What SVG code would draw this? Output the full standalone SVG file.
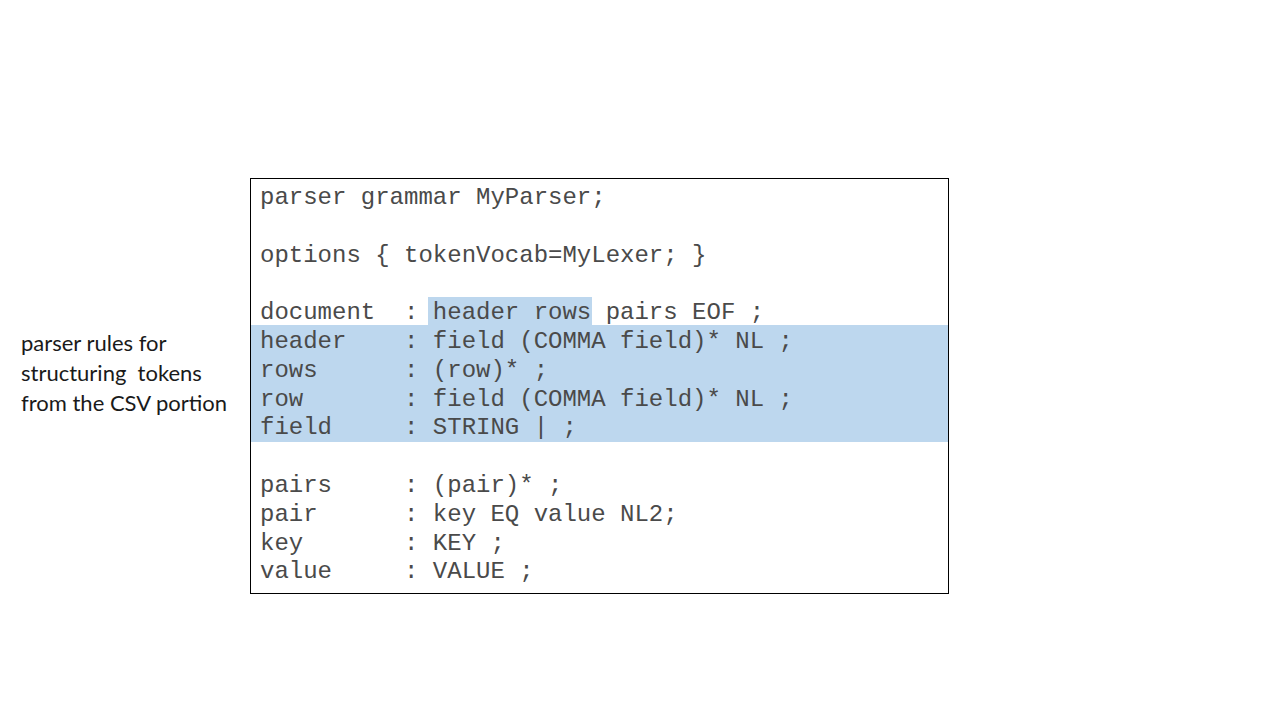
<svg xmlns="http://www.w3.org/2000/svg" width="1280" height="720" viewBox="0 0 1280 720">
<style>
.code{font-family:"Liberation Mono","Courier New",monospace;font-size:24px;fill:#4a4a4a;white-space:pre}
.note{font-family:Lato,"Open Sans","Liberation Sans",sans-serif;font-size:22px;fill:#1a1a1a}
.hl{fill:#bdd7ee}
</style>
<rect width="1280" height="720" fill="#ffffff"/>
<g id="grammar-box">
<rect x="250.5" y="178.5" width="698" height="415" fill="#ffffff" stroke="#000000" stroke-width="1"/>
<rect class="hl" x="251" y="325" width="697" height="117"/>
<rect class="hl" x="428" y="297" width="164" height="28"/>
<text class="code" xml:space="preserve">
<tspan x="260" y="204">parser grammar MyParser;</tspan>
<tspan x="260" y="261.6">options { tokenVocab=MyLexer; }</tspan>
<tspan x="260" y="319.2">document  : header rows pairs EOF ;</tspan>
<tspan x="260" y="348">header    : field (COMMA field)* NL ;</tspan>
<tspan x="260" y="376.8">rows      : (row)* ;</tspan>
<tspan x="260" y="405.6">row       : field (COMMA field)* NL ;</tspan>
<tspan x="260" y="434.4">field     : STRING | ;</tspan>
<tspan x="260" y="492">pairs     : (pair)* ;</tspan>
<tspan x="260" y="520.8">pair      : key EQ value NL2;</tspan>
<tspan x="260" y="549.6">key       : KEY ;</tspan>
<tspan x="260" y="578.4">value     : VALUE ;</tspan>
</text>
</g>
<g id="note">
<text class="note" x="21" y="351">parser rules for</text>
<text class="note" x="21" y="381" xml:space="preserve">structuring  tokens</text>
<text class="note" x="21" y="411">from the CSV portion</text>
</g>
</svg>
